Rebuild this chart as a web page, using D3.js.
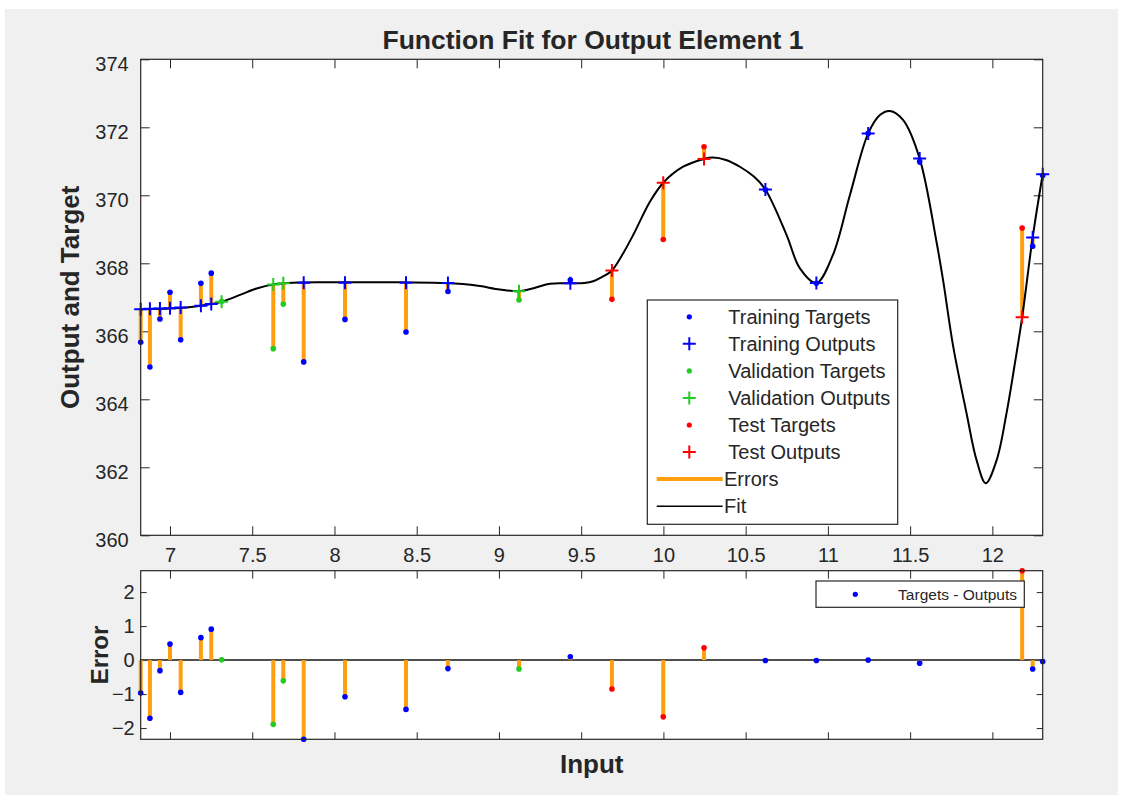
<!DOCTYPE html>
<html>
<head>
<meta charset="utf-8">
<script src="https://cdn.jsdelivr.net/npm/d3@7"></script>
<style>
  body { margin: 0; background: #fff; }
  text { font-family: "Liberation Sans", Arial, sans-serif; fill: #262626; }
</style>
</head>
<body>
<script>
// samples
var inputs  = [6.822, 6.878, 6.939, 7.000, 7.065, 7.188, 7.251, 7.314, 7.628, 7.689, 7.813, 8.064, 8.435,
               8.690, 9.122, 9.434, 9.687, 9.999, 10.247, 10.62, 10.93, 11.245, 11.558, 12.181, 12.245, 12.306];
var outputs = [366.65, 366.66, 366.67, 366.68, 366.70, 366.75, 366.80, 366.87, 367.38, 367.41, 367.43, 367.43, 367.43,
               367.42, 367.18, 367.41, 367.79, 370.37, 371.07, 370.17, 367.42, 371.82, 371.08, 366.41, 368.76, 370.62];
var targets = [365.68, 364.95, 366.36, 367.15, 365.75, 367.41, 367.71, 366.88, 365.49, 366.80, 365.10, 366.35, 365.98,
               367.17, 366.92, 367.51, 366.94, 368.70, 371.43, 370.16, 367.41, 371.82, 370.99, 369.04, 368.50, 370.58];
var sets    = ['train', 'train', 'train', 'train', 'train', 'train', 'train', 'val', 'val', 'val', 'train', 'train', 'train',
               'train', 'val', 'train', 'test', 'test', 'test', 'train', 'train', 'train', 'train', 'test', 'train', 'train'];

// fitted curve
var fitX = [6.822, 7.0, 7.1, 7.188, 7.251, 7.314, 7.426, 7.527, 7.628, 7.75, 8.0, 8.4, 8.65, 8.78, 8.884, 9.006,
            9.12, 9.22, 9.31, 9.438, 9.52, 9.573, 9.62, 9.687, 9.75, 9.816, 9.918, 9.999, 10.12, 10.247, 10.30,
            10.38, 10.465, 10.55, 10.62, 10.749, 10.83, 10.93, 11.03, 11.134, 11.245, 11.316, 11.377, 11.458,
            11.558, 11.66, 11.70, 11.762, 11.843, 11.904, 11.96, 12.026, 12.086, 12.137, 12.181, 12.245, 12.306];
var fitY = [366.65, 366.67, 366.70, 366.75, 366.80, 366.87, 367.07, 367.26, 367.38, 367.43, 367.44, 367.44, 367.42,
            367.39, 367.33, 367.23, 367.18, 367.28, 367.40, 367.41, 367.42, 367.47, 367.58, 367.79, 368.25, 368.83,
            369.81, 370.37, 370.84, 371.07, 371.11, 371.04, 370.84, 370.55, 370.17, 368.83, 367.85, 367.42, 368.24,
            370.01, 371.82, 372.36, 372.48, 372.21, 371.08, 368.64, 367.51, 365.55, 363.59, 362.21, 361.53, 362.21,
            363.59, 365.06, 366.41, 368.76, 370.62];

var xTicks = [7, 7.5, 8, 8.5, 9, 9.5, 10, 10.5, 11, 11.5, 12];
var yTicks = [360, 362, 364, 366, 368, 370, 372, 374];
var errTicks = [-2, -1, 0, 1, 2];

var legendLabels = ['Training Targets', 'Training Outputs', 'Validation Targets', 'Validation Outputs',
                    'Test Targets', 'Test Outputs', 'Errors', 'Fit'];

var colors = { train: '#0000ff', val: '#22cc22', test: '#ff0000' };
var errColor = '#ff9f0f';
var axisColor = '#262626';

var W = 1128, H = 804;
var L = 140.7, R = 1042.7;
var mainTop = 59.3, mainBot = 535.3;
var errTop = 570.7, errBot = 739.3;

var errors = targets.map(function(t, i) { return t - outputs[i]; });

var x = d3.scaleLinear().domain(d3.extent(inputs)).range([L, R]);
var y = d3.scaleLinear().domain([360, 374]).range([mainBot, mainTop]);
var ye = d3.scaleLinear().domain(d3.extent(errors)).range([errBot, errTop]);

var svg = d3.select('body').append('svg')
    .attr('width', W).attr('height', H);

svg.append('rect').attr('x', 5).attr('y', 9).attr('width', 1113).attr('height', 786).attr('fill', '#f0f0f0');

function plus(g, cx, cy, col, s) {
    g.append('path')
        .attr('d', 'M' + (cx - s) + ',' + cy + 'H' + (cx + s) + 'M' + cx + ',' + (cy - s) + 'V' + (cy + s))
        .attr('stroke', col).attr('stroke-width', 2).attr('fill', 'none');
}

function styleAxis(g) {
    g.select('.domain').remove();
    g.selectAll('line').attr('stroke', axisColor);
    g.selectAll('text').attr('font-size', 20).attr('fill', axisColor)
        .style('font-family', '"Liberation Sans", Arial, sans-serif');
}

// ---------- main axes ----------
var main = svg.append('g');
main.append('rect').attr('x', L).attr('y', mainTop).attr('width', R - L).attr('height', mainBot - mainTop)
    .attr('fill', '#fff');

main.append('g').attr('transform', 'translate(0,' + mainBot + ')')
    .call(d3.axisBottom(x).tickValues(xTicks).tickFormat(d3.format('')).tickSizeInner(-9).tickSizeOuter(0).tickPadding(13))
    .call(styleAxis);
main.append('g').attr('transform', 'translate(0,' + mainTop + ')')
    .call(d3.axisTop(x).tickValues(xTicks).tickFormat('').tickSizeInner(-9).tickSizeOuter(0))
    .call(styleAxis);
main.append('g').attr('transform', 'translate(' + L + ',0)')
    .call(d3.axisLeft(y).tickValues(yTicks).tickFormat(d3.format('d')).tickSizeInner(-9).tickSizeOuter(0).tickPadding(12))
    .call(styleAxis)
    .selectAll('text').attr('dy', '0.55em');
main.append('g').attr('transform', 'translate(' + R + ',0)')
    .call(d3.axisRight(y).tickValues(yTicks).tickFormat('').tickSizeInner(-9).tickSizeOuter(0))
    .call(styleAxis);

// error bars
main.selectAll('.ebar').data(inputs).enter().append('line')
    .attr('x1', function(d) { return x(d); }).attr('x2', function(d) { return x(d); })
    .attr('y1', function(d, i) { return y(targets[i]); })
    .attr('y2', function(d, i) { return y(outputs[i]); })
    .attr('stroke', errColor).attr('stroke-width', 4);

// fit
var fitLine = d3.line()
    .x(function(d) { return x(d[0]); })
    .y(function(d) { return y(d[1]); })
    .curve(d3.curveCatmullRom.alpha(0.5));
main.append('path').datum(d3.zip(fitX, fitY)).attr('d', fitLine)
    .attr('fill', 'none').attr('stroke', '#000').attr('stroke-width', 2);

// targets
main.selectAll('.tgt').data(inputs).enter().append('circle')
    .attr('cx', function(d) { return x(d); })
    .attr('cy', function(d, i) { return y(targets[i]); })
    .attr('r', 2.8)
    .attr('fill', function(d, i) { return colors[sets[i]]; });

// outputs
inputs.forEach(function(d, i) { plus(main, x(d), y(outputs[i]), colors[sets[i]], 6.5); });

main.append('rect').attr('x', L).attr('y', mainTop).attr('width', R - L).attr('height', mainBot - mainTop)
    .attr('fill', 'none').attr('stroke', axisColor).attr('stroke-width', 1.2);

// legend
var lg = main.append('g');
lg.append('rect').attr('x', 647.3).attr('y', 300).attr('width', 250.4).attr('height', 224.3)
    .attr('fill', '#fff').attr('stroke', axisColor).attr('stroke-width', 1.2);
var legendKinds = ['train', 'train', 'val', 'val', 'test', 'test', 'err', 'fit'];
legendLabels.forEach(function(lab, i) {
    var ly = 316.8 + i * 27.05;
    var k = legendKinds[i];
    if (k === 'err') {
        lg.append('line').attr('x1', 656.7).attr('x2', 722.7).attr('y1', ly).attr('y2', ly)
            .attr('stroke', errColor).attr('stroke-width', 4);
    } else if (k === 'fit') {
        lg.append('line').attr('x1', 656.7).attr('x2', 722.7).attr('y1', ly).attr('y2', ly)
            .attr('stroke', '#000').attr('stroke-width', 1.5);
    } else if (i % 2 === 0) {
        lg.append('circle').attr('cx', 689.3).attr('cy', ly).attr('r', 2.6).attr('fill', colors[k]);
    } else {
        plus(lg, 689.3, ly, colors[k], 6.5);
    }
    lg.append('text').attr('x', i >= 6 ? 724 : 728.3).attr('y', ly + 7)
        .attr('font-size', 20).text(lab);
});

// ---------- error axes ----------
var ea = svg.append('g');
ea.append('rect').attr('x', L).attr('y', errTop).attr('width', R - L).attr('height', errBot - errTop)
    .attr('fill', '#fff');

ea.append('g').attr('transform', 'translate(0,' + errBot + ')')
    .call(d3.axisBottom(x).tickValues(xTicks).tickFormat('').tickSizeInner(-7).tickSizeOuter(0))
    .call(styleAxis);
ea.append('g').attr('transform', 'translate(0,' + errTop + ')')
    .call(d3.axisTop(x).tickValues(xTicks).tickFormat('').tickSizeInner(-8).tickSizeOuter(0))
    .call(styleAxis);
ea.append('g').attr('transform', 'translate(' + L + ',0)')
    .call(d3.axisLeft(ye).tickValues(errTicks).tickFormat(d3.format('d')).tickSizeInner(-6).tickSizeOuter(0).tickPadding(6))
    .call(styleAxis);
ea.append('g').attr('transform', 'translate(' + R + ',0)')
    .call(d3.axisRight(ye).tickValues(errTicks).tickFormat('').tickSizeInner(-6).tickSizeOuter(0))
    .call(styleAxis);

ea.append('line').attr('x1', L).attr('x2', R).attr('y1', ye(0)).attr('y2', ye(0))
    .attr('stroke', '#505050').attr('stroke-width', 2);

ea.selectAll('.estem').data(errors).enter().append('line')
    .attr('x1', function(d, i) { return x(inputs[i]); }).attr('x2', function(d, i) { return x(inputs[i]); })
    .attr('y1', ye(0)).attr('y2', function(d) { return ye(d); })
    .attr('stroke', errColor).attr('stroke-width', 4);

ea.selectAll('.edot').data(errors).enter().append('circle')
    .attr('cx', function(d, i) { return x(inputs[i]); })
    .attr('cy', function(d) { return ye(d); })
    .attr('r', 2.8)
    .attr('fill', function(d, i) { return colors[sets[i]]; });

ea.append('rect').attr('x', L).attr('y', errTop).attr('width', R - L).attr('height', errBot - errTop)
    .attr('fill', 'none').attr('stroke', axisColor).attr('stroke-width', 1.2);

ea.append('rect').attr('x', 816).attr('y', 581).attr('width', 208.3).attr('height', 26.3)
    .attr('fill', '#fff').attr('stroke', axisColor).attr('stroke-width', 1.2);
ea.append('circle').attr('cx', 855.3).attr('cy', 594.3).attr('r', 2.6).attr('fill', colors.train);
ea.append('text').attr('x', 1017).attr('y', 599.5).attr('text-anchor', 'end')
    .attr('font-size', 15.5).text('Targets - Outputs');

// ---------- titles ----------
svg.append('text').attr('x', 593).attr('y', 49).attr('text-anchor', 'middle')
    .attr('font-size', 26.5).attr('font-weight', 'bold').attr('fill', '#000')
    .text('Function Fit for Output Element 1');
svg.append('text').attr('transform', 'translate(79,' + ((mainTop + mainBot) / 2) + ') rotate(-90)')
    .attr('text-anchor', 'middle').attr('font-size', 26).attr('font-weight', 'bold')
    .text('Output and Target');
svg.append('text').attr('transform', 'translate(108,' + ((errTop + errBot) / 2) + ') rotate(-90)')
    .attr('text-anchor', 'middle').attr('font-size', 24).attr('font-weight', 'bold')
    .text('Error');
svg.append('text').attr('x', (L + R) / 2).attr('y', 773).attr('text-anchor', 'middle')
    .attr('font-size', 26).attr('font-weight', 'bold')
    .text('Input');
</script>
</body>
</html>
